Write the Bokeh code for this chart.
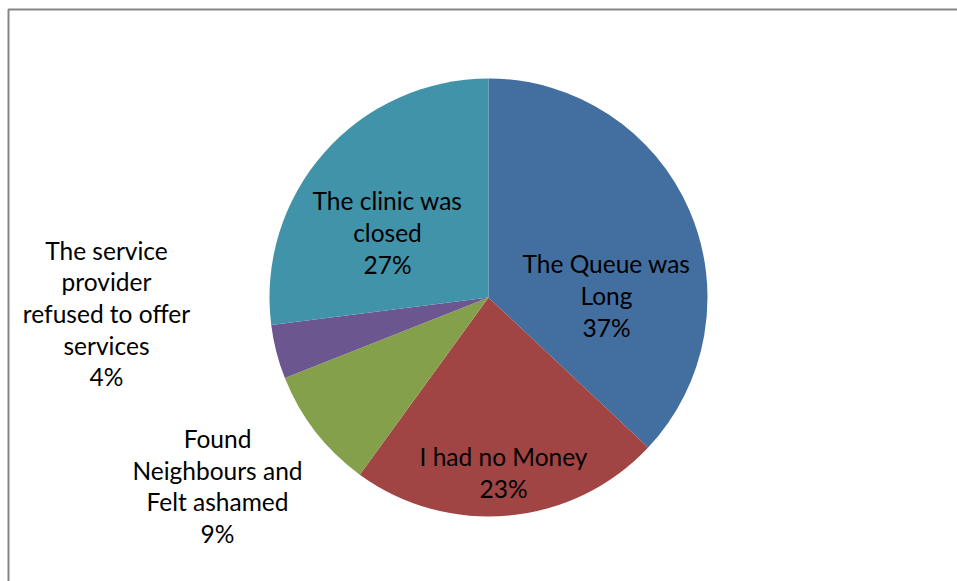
import numpy as np
from bokeh.plotting import figure
from bokeh.models import Range1d, ColumnDataSource
from bokeh.core.properties import value
from bokeh.embed import file_html
from bokeh.resources import INLINE

# ---- data ----
categories = ["The Queue was\nLong", "I had no Money", "Found\nNeighbours and\nFelt ashamed",
              "The service\nprovider\nrefused to offer\nservices", "The clinic was\nclosed"]
percents = [37, 23, 9, 4, 27]
colors = ["#436EA0", "#A04543", "#84A04A", "#6C5690", "#4093A8"]

# ---- layout (not data) ----
W, H = 957, 581
cx, cy, r = 488, 284, 219
label_x = [606, 503, 217, 106, 387]
label_y = [286, 109, 95.5, 268, 349]

vals = np.array(percents, dtype=float)
frac = vals / vals.sum()
cum = np.concatenate([[0], np.cumsum(frac)])
start = np.pi / 2 - cum[:-1] * 2 * np.pi
end = np.pi / 2 - cum[1:] * 2 * np.pi

src = ColumnDataSource(dict(start=start, end=end, color=colors))

p = figure(width=W, height=H, output_backend="svg", toolbar_location=None,
           x_range=Range1d(0, W), y_range=Range1d(0, H), min_border=0)
p.axis.visible = False
p.grid.visible = False
p.outline_line_color = None
p.background_fill_color = "white"
p.border_fill_color = "white"

p.wedge(x=cx, y=cy, radius=r, start_angle="start", end_angle="end", direction="clock",
        fill_color="color", line_color=None, source=src)

# frame border (left and top visible, rest cut off)
p.line(x=[8, 8, W], y=[0, H - 9, H - 9], line_color="#868686", line_width=2)

labels = [f"{c}\n{v}%" for c, v in zip(categories, percents)]
lsrc = ColumnDataSource(dict(x=label_x, y=label_y, text=labels))
p.text(x="x", y="y", text="text", source=lsrc, text_align="center", text_baseline="middle",
       text_font=value("Lato"), text_font_size="24.5px", text_color="black",
       text_line_height=1.088)

open("out.html", "w").write(file_html(p, INLINE))
